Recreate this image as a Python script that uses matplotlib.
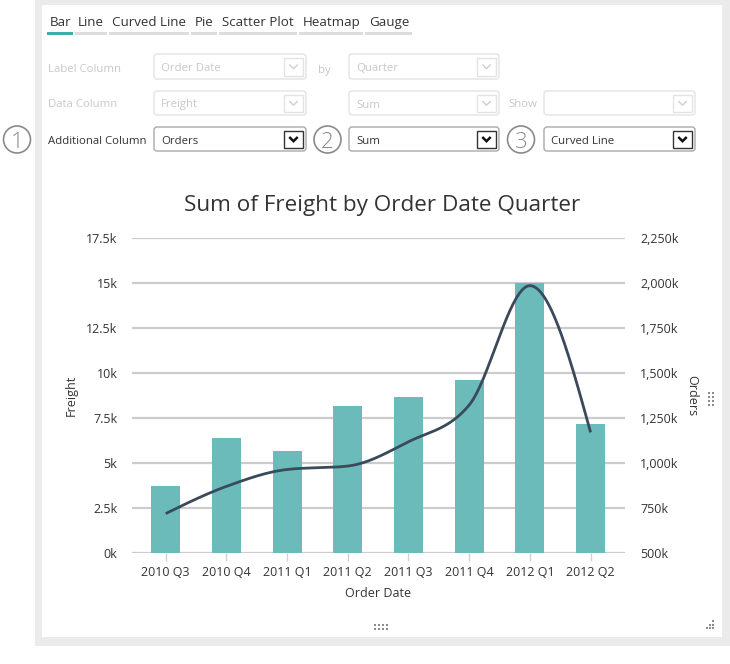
import numpy as np
import matplotlib
matplotlib.use("Agg")
import matplotlib.pyplot as plt
from matplotlib.patches import Rectangle, FancyBboxPatch, Circle
from matplotlib.ticker import FixedLocator

# ---------------- data ----------------
categories = ["2010 Q3", "2010 Q4", "2011 Q1", "2011 Q2",
              "2011 Q3", "2011 Q4", "2012 Q1", "2012 Q2"]
freight = [3710, 6390, 5660, 8170, 8670, 9620, 15020, 7170]
orders_k = [719, 870, 964, 983, 1118, 1322, 1985, 1170]

left_ticks = [0, 2500, 5000, 7500, 10000, 12500, 15000, 17500]
left_labels = ["0k", "2.5k", "5k", "7.5k", "10k", "12.5k", "15k", "17.5k"]
right_ticks = [500, 750, 1000, 1250, 1500, 1750, 2000, 2250]
right_labels = ["500k", "750k", "1,000k", "1,250k", "1,500k", "1,750k", "2,000k", "2,250k"]

tabs = ["Bar", "Line", "Curved Line", "Pie", "Scatter Plot", "Heatmap", "Gauge"]

FONT = ["Open Sans", "DejaVu Sans"]
plt.rcParams["font.family"] = FONT

W, H = 730, 664
fig = plt.figure(figsize=(W / 100, H / 100), dpi=100)
fig.patch.set_facecolor("white")

# ---------- UI layer in pixel coords ----------
ui = fig.add_axes([0, 0, 1, 1], zorder=0)
ui.set_xlim(0, W)
ui.set_ylim(H, 0)
ui.axis("off")

DY = 1.5  # vertical text nudge

GRAY_BG = "#ebebeb"
ui.add_patch(Rectangle((35, 0), W - 35, 646, facecolor=GRAY_BG, edgecolor="none"))
ui.add_patch(Rectangle((42, 5), 722 - 42, 637 - 5, facecolor="white", edgecolor="none"))

# tabs
tab_text_x = [50, 78, 112, 195, 222, 303, 369]
tab_under = [(46.5, 73), (75, 107), (109, 189), (191, 217), (219, 297), (299, 363), (365, 412)]
for i, (t, tx, (u0, u1)) in enumerate(zip(tabs, tab_text_x, tab_under)):
    ui.text(tx, 21 + DY, t, fontsize=9.6, color="#333333", va="center", ha="left")
    ui.add_patch(Rectangle((u0, 32), u1 - u0, 3,
                           facecolor="#3aafa9" if i == 0 else "#dddddd", edgecolor="none"))

DIS_TXT = "#c8c8c8"
DIS_BOX = "#e3e3e3"
EN_TXT = "#333333"


def dropdown(x0, x1, y0, y1, text, enabled):
    ui.add_patch(FancyBboxPatch((x0, y0), x1 - x0, y1 - y0,
                                boxstyle="round,pad=0,rounding_size=3",
                                facecolor="white",
                                edgecolor="#a9a9a9" if enabled else DIS_BOX, lw=1.0))
    if text:
        ui.text(x0 + 7, (y0 + y1) / 2 + 0.5 + DY, text, fontsize=8.2,
                color=EN_TXT if enabled else DIS_TXT, va="center", ha="left")
    # arrow button
    bx0, bx1 = x1 - 22, x1 - 3
    by0, by1 = y0 + 3.5, y1 - 3.5
    ui.add_patch(Rectangle((bx0, by0), bx1 - bx0, by1 - by0, facecolor="white",
                           edgecolor="#333333" if enabled else DIS_BOX,
                           lw=1.0))
    cx, cy = (bx0 + bx1) / 2, (by0 + by1) / 2
    ui.plot([cx - 4.2, cx, cx + 4.2], [cy - 2.0, cy + 2.2, cy - 2.0],
            color="#111111" if enabled else "#cfcfcf",
            lw=1.8 if enabled else 1.0, solid_capstyle="butt",
            solid_joinstyle="miter")


rows = [(54, 79), (91, 115), (127, 151)]
ui.text(48, 68 + DY, "Label Column", fontsize=8.2, color=DIS_TXT, va="center")
ui.text(48, 103 + DY, "Data Column", fontsize=8.2, color=DIS_TXT, va="center")
ui.text(48, 139.5 + DY, "Additional Column", fontsize=8.2, color=EN_TXT, va="center")
ui.text(318, 69.5 + DY, "by", fontsize=8.2, color=DIS_TXT, va="center")
ui.text(508, 103 + DY, "Show", fontsize=8.2, color=DIS_TXT, va="center")

dropdown(154, 306, *rows[0], "Order Date", False)
dropdown(349, 499, *rows[0], "Quarter", False)
dropdown(154, 306, *rows[1], "Freight", False)
dropdown(349, 499, *rows[1], "Sum", False)
dropdown(544, 695, *rows[1], "", False)
dropdown(154, 306, *rows[2], "Orders", True)
dropdown(349, 499, *rows[2], "Sum", True)
dropdown(544, 695, *rows[2], "Curved Line", True)

for cx, n in [(17, "1"), (327.5, "2"), (521, "3")]:
    ui.add_patch(Circle((cx, 139.5), 13.5, facecolor="white", edgecolor="#8a8a8a", lw=1.2))
    ui.text(cx, 140.5 + DY, n, fontsize=16, color="#8a8a8a", ha="center", va="center",
            fontweight="light")

# grips
DOT = "#8c8c8c"
for gx in [708, 712]:
    for gy in [392, 396, 400, 404]:
        ui.add_patch(Rectangle((gx, gy), 2, 2, facecolor=DOT, edgecolor="none"))
for gx in [374, 378, 382, 386]:
    for gy in [624, 628]:
        ui.add_patch(Rectangle((gx, gy), 2, 2, facecolor=DOT, edgecolor="none"))
for gx, gy in [(712, 620), (709, 624), (712, 624), (706, 627), (709, 627), (712, 627)]:
    ui.add_patch(Rectangle((gx, gy), 2, 2, facecolor=DOT, edgecolor="none"))

# title
ui.text(382, 204 + DY, "Sum of Freight by Order Date Quarter", fontsize=16.2,
        color="#333333", ha="center", va="center")

# ---------------- chart ----------------
L, R, T, B = 132, 625, 238, 553
ax = fig.add_axes([L / W, (H - B) / H, (R - L) / W, (B - T) / H], zorder=1)
ax.patch.set_alpha(0)
x = np.arange(len(categories))
ax.set_xlim(-0.555, 7.567)
ax.set_ylim(0, 17500)
ax.bar(x, freight, width=0.475, color="#6bbbba", zorder=2)
ax.yaxis.set_major_locator(FixedLocator(left_ticks))
ax.set_yticklabels(left_labels)
ax.set_xticks(x)
ax.set_xticklabels(categories)
ax.grid(axis="y", color="#cccccc", lw=1.6, zorder=0)
ax.set_axisbelow(True)
for s in ax.spines.values():
    s.set_visible(False)
ax.tick_params(axis="y", length=0, pad=10.5, labelsize=9, labelcolor="#333333")
ax.tick_params(axis="x", length=6, width=1, color="#c8d3de", pad=3,
               labelsize=9, labelcolor="#333333")
ax.set_xlabel("Order Date", fontsize=9, color="#333333", labelpad=6)
ax.set_ylabel("Freight", fontsize=9, color="#333333", labelpad=6)

ax2 = ax.twinx()
ax2.set_ylim(500, 2250)
ax2.yaxis.set_major_locator(FixedLocator(right_ticks))
ax2.set_yticklabels(right_labels)
for s in ax2.spines.values():
    s.set_visible(False)
ax2.tick_params(axis="y", length=0, pad=11, labelsize=9, labelcolor="#333333")
ax2.set_ylabel("Orders", fontsize=9, color="#333333", rotation=270, labelpad=5,
               va="bottom")


# monotone-x cubic (d3 style) through the points
def monotone_curve(xs, ys, n=40):
    xs = np.asarray(xs, float)
    ys = np.asarray(ys, float)
    m = len(xs)
    h = np.diff(xs)
    s = np.diff(ys) / h
    t = np.zeros(m)
    for i in range(1, m - 1):
        p = (s[i - 1] * h[i] + s[i] * h[i - 1]) / (h[i - 1] + h[i])
        t[i] = (np.sign(s[i - 1]) + np.sign(s[i])) * min(abs(s[i - 1]), abs(s[i]), 0.5 * abs(p))
    t[0] = (3 * s[0] - t[1]) / 2
    t[-1] = (3 * s[-1] - t[-2]) / 2
    X, Y = [], []
    for i in range(m - 1):
        u = np.linspace(0, 1, n)
        x0, x1 = xs[i], xs[i + 1]
        dx = x1 - x0
        P0 = (x0, ys[i])
        P1 = (x0 + dx / 3, ys[i] + dx * t[i] / 3)
        P2 = (x1 - dx / 3, ys[i + 1] - dx * t[i + 1] / 3)
        P3 = (x1, ys[i + 1])
        bx = (1 - u) ** 3 * P0[0] + 3 * (1 - u) ** 2 * u * P1[0] + 3 * (1 - u) * u ** 2 * P2[0] + u ** 3 * P3[0]
        by = (1 - u) ** 3 * P0[1] + 3 * (1 - u) ** 2 * u * P1[1] + 3 * (1 - u) * u ** 2 * P2[1] + u ** 3 * P3[1]
        X.extend(bx)
        Y.extend(by)
    return np.array(X), np.array(Y)


cx_, cy_ = monotone_curve(x, orders_k)
ax2.plot(cx_, cy_, color="#3b4a5a", lw=2.0, zorder=3, solid_capstyle="butt")

fig.savefig("out.png", dpi=100)
